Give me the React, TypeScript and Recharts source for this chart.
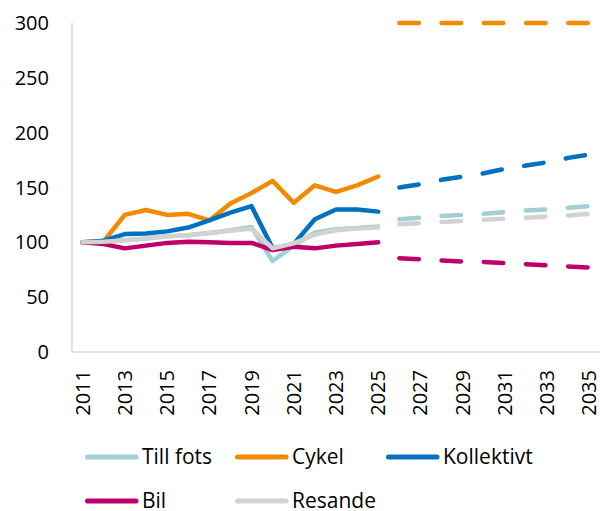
import React from "react";
import { LineChart, Line, XAxis, YAxis, Legend } from "recharts";

const years = [2011, 2012, 2013, 2014, 2015, 2016, 2017, 2018, 2019, 2020, 2021, 2022, 2023, 2024, 2025, 2026, 2027, 2028, 2029, 2030, 2031, 2032, 2033, 2034, 2035];

// historical 2011-2025
const tillFots = [100, 100.5, 102, 103.5, 105.5, 106.5, 108.5, 111, 114, 83, 97, 109, 112, 113, 114.5];
const cykel = [100, 101, 125, 129.5, 125, 126, 120, 135.5, 145, 156, 136, 152, 146, 152, 160];
const kollektivt = [100, 101.5, 107.5, 108, 110, 113.5, 120, 127, 133, 94.5, 98.5, 121, 130, 130, 128];
const bil = [100, 98.5, 94.5, 97, 99.5, 100.5, 100, 99.5, 99.5, 93, 96, 94.5, 97, 98.5, 100];
const resande = [100, 100.5, 102, 103.5, 105.5, 106.5, 108.5, 110.5, 112.5, 94.5, 99, 107, 111, 112.5, 113.5];

// projections 2026-2035
const tillFotsP = [121, 122.5, 124, 125, 126, 127.5, 129, 130, 131.5, 133];
const cykelP = [300, 300, 300, 300, 300, 300, 300, 300, 300, 300];
const kollektivtP = [150, 153, 157, 160, 163, 167, 170, 173, 177, 180];
const bilP = [85.5, 84.5, 83.5, 82.5, 82, 81, 80, 79, 78, 77];
const resandeP = [116.5, 117.5, 118.5, 119.5, 120.5, 121.5, 122.5, 123.5, 124.5, 126];

const yTicks = [0, 50, 100, 150, 200, 250, 300];

const COLORS = {
  tillFots: "#A2CFD3",
  cykel: "#F28A00",
  kollektivt: "#0070C0",
  bil: "#C0006A",
  resande: "#D2D2D2",
};

const series = [
  { key: "tillFots", name: "Till fots", hist: tillFots, proj: tillFotsP },
  { key: "cykel", name: "Cykel", hist: cykel, proj: cykelP },
  { key: "kollektivt", name: "Kollektivt", hist: kollektivt, proj: kollektivtP },
  { key: "bil", name: "Bil", hist: bil, proj: bilP },
  { key: "resande", name: "Resande", hist: resande, proj: resandeP },
];

const nHist = tillFots.length;

const data = years.map((year, i) => {
  const row: Record<string, number | null> = { year };
  series.forEach((s) => {
    row[s.key] = i < nHist ? s.hist[i] : null;
    row[s.key + "P"] = i >= nHist ? s.proj[i - nHist] : null;
  });
  return row;
});

const FONT = "'Open Sans', sans-serif";

const XTick = (props: any) => {
  const { x, y, payload } = props;
  return (
    <text
      x={x}
      y={y}
      transform={`rotate(-90, ${x}, ${y})`}
      textAnchor="end"
      dy="0.35em"
      fontSize={20}
      fontFamily={FONT}
      fill="#000"
    >
      {payload.value}
    </text>
  );
};

const legendItems = [
  { name: "Till fots", color: COLORS.tillFots, x: 85, y: 35 },
  { name: "Cykel", color: COLORS.cykel, x: 235, y: 35 },
  { name: "Kollektivt", color: COLORS.kollektivt, x: 386, y: 35 },
  { name: "Bil", color: COLORS.bil, x: 85, y: 79 },
  { name: "Resande", color: COLORS.resande, x: 235, y: 79 },
];

const LegendContent = () => (
  <div style={{ position: "relative", width: 600, height: 89 }}>
    <svg width={600} height={89} style={{ position: "absolute", left: 0, top: 0, overflow: "visible" }}>
      {legendItems.map((it) => (
        <g key={it.name}>
          <line
            x1={it.x + 2.5}
            x2={it.x + 51}
            y1={it.y}
            y2={it.y}
            stroke={it.color}
            strokeWidth={5}
            strokeLinecap="round"
          />
          <text
            x={it.x + 57}
            y={it.y}
            dy="0.35em"
            fontSize={21}
            fontFamily={FONT}
            fill="#000"
          >
            {it.name}
          </text>
        </g>
      ))}
    </svg>
  </div>
);

export default function App() {
  return (
    <div style={{ position: "absolute", left: 0, top: 0, width: 600, height: 511, background: "#fff" }}>
      <LineChart width={600} height={511} data={data} margin={{ top: 23, right: 0, left: 0, bottom: 0 }}>
        <XAxis
          dataKey="year"
          interval={1}
          tick={<XTick />}
          tickLine={false}
          tickSize={0}
          tickMargin={18}
          height={70}
          padding={{ left: 10.56, right: 10.56 }}
          axisLine={{ stroke: "#D9D9D9", strokeWidth: 1.5 }}
        />
        <YAxis
          width={72}
          domain={[0, 300]}
          ticks={yTicks}
          interval={0}
          tickLine={false}
          tickSize={0}
          tickMargin={23}
          axisLine={{ stroke: "#D9D9D9", strokeWidth: 1.5 }}
          tick={{ fontSize: 20, fontFamily: FONT, fill: "#000" }}
        />
        <Legend
          verticalAlign="bottom"
          height={89}
          wrapperStyle={{ left: 0, width: 600, height: 89 }}
          content={<LegendContent />}
        />
        {series.map((s) => (
          <Line
            key={s.key}
            dataKey={s.key}
            name={s.name}
            stroke={(COLORS as any)[s.key]}
            strokeWidth={4.5}
            strokeLinejoin="round"
            strokeLinecap="round"
            dot={false}
            activeDot={false}
            isAnimationActive={false}
            connectNulls={false}
          />
        ))}
        {series.map((s) => (
          <Line
            key={s.key + "P"}
            dataKey={s.key + "P"}
            name={s.name + " prognos"}
            legendType="none"
            stroke={(COLORS as any)[s.key]}
            strokeWidth={4.5}
            strokeDasharray="19.5 22.74"
            strokeLinecap="round"
            dot={false}
            activeDot={false}
            isAnimationActive={false}
            connectNulls={false}
          />
        ))}
      </LineChart>
    </div>
  );
}
